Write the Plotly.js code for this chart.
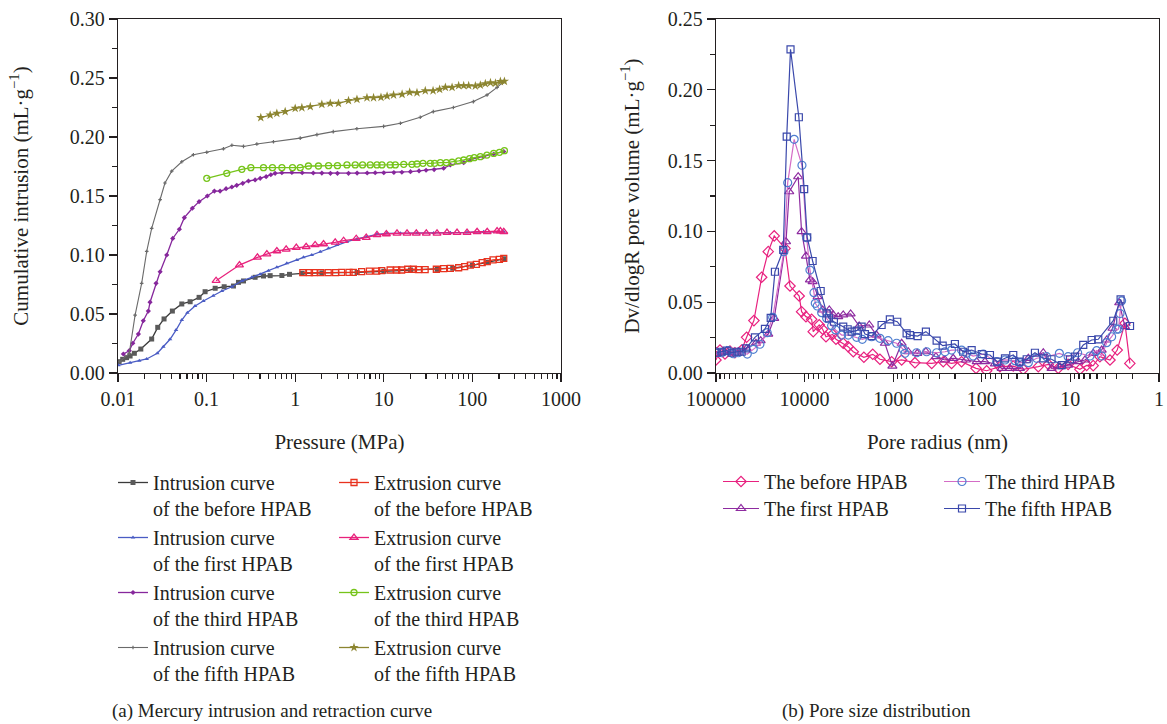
<!DOCTYPE html>
<html>
<head>
<meta charset="utf-8">
<script src="https://cdn.plot.ly/plotly-3.0.1.min.js"></script>
<style>html,body{margin:0;padding:0;background:#fff;}#chart{width:1167px;height:724px;}</style>
</head>
<body>
<div id="chart"></div>
<script>
// ---------- (a) Mercury intrusion / extrusion : pressure (MPa) vs cumulative intrusion (mL/g)
const intrBeforeP = [0.0103, 0.0113, 0.0125, 0.0137, 0.0153, 0.0181, 0.024, 0.0281, 0.0331, 0.0411, 0.0525, 0.0652, 0.0823, 0.0962, 0.125, 0.158, 0.201, 0.229, 0.261, 0.353, 0.439, 0.522, 0.708, 0.863, 1.2, 2, 5, 10, 20, 40, 60, 100, 150, 228];
const intrBeforeV = [0.0096, 0.0116, 0.013, 0.0144, 0.0167, 0.0203, 0.0288, 0.0387, 0.0458, 0.0525, 0.0585, 0.0604, 0.0641, 0.0689, 0.0718, 0.0731, 0.0737, 0.0768, 0.078, 0.0811, 0.0822, 0.0825, 0.0826, 0.0836, 0.0845, 0.0848, 0.0852, 0.0862, 0.0873, 0.0878, 0.0888, 0.0912, 0.0938, 0.0968];
const extrBeforeP = [226, 202, 171, 147, 129, 111, 94.9, 81.8, 70, 56.4, 47.4, 39.2, 29.3, 24.6, 21.6, 18.6, 15.9, 14, 11.8, 9.48, 8.32, 6.88, 5.62, 4.53, 4.05, 3.34, 2.86, 2.36, 1.95, 1.64, 1.45, 1.22];
const extrBeforeV = [0.0972, 0.0963, 0.0958, 0.0943, 0.0935, 0.092, 0.0915, 0.0901, 0.0892, 0.0887, 0.0884, 0.0879, 0.0876, 0.0876, 0.0879, 0.0879, 0.0873, 0.0873, 0.0873, 0.0867, 0.0864, 0.0864, 0.0859, 0.0853, 0.0853, 0.0853, 0.085, 0.085, 0.085, 0.085, 0.085, 0.085];
const intrFirstP = [0.0101, 0.0137, 0.0174, 0.0211, 0.0278, 0.0325, 0.0387, 0.0452, 0.0525, 0.0607, 0.0741, 0.092, 0.119, 0.149, 0.193, 0.25, 0.324, 0.403, 0.499, 0.621, 0.805, 1.045, 1.24, 1.54, 1.92, 2.38, 2.96, 3.84, 4.98, 6.46, 8.38, 10.9, 15.4, 23.7, 36.6, 56.4, 87, 134, 226];
const intrFirstV = [0.0065, 0.0087, 0.0104, 0.0119, 0.0167, 0.0223, 0.0286, 0.0364, 0.0449, 0.0511, 0.0568, 0.061, 0.0655, 0.0695, 0.0731, 0.078, 0.0811, 0.0836, 0.0867, 0.0896, 0.093, 0.0958, 0.098, 0.1, 0.1028, 0.1057, 0.1085, 0.1113, 0.1136, 0.1155, 0.1175, 0.1184, 0.1184, 0.1184, 0.1186, 0.1189, 0.1191, 0.1197, 0.1197];
const extrFirstP = [226, 207, 190, 147, 113, 87, 67.1, 51.7, 39.9, 30.2, 23.3, 18.3, 14.1, 10.7, 8.38, 6.34, 4.89, 3.52, 2.83, 2.09, 1.68, 1.33, 1.03, 0.791, 0.621, 0.479, 0.375, 0.235, 0.128];
const extrFirstV = [0.1197, 0.1203, 0.1203, 0.1197, 0.1197, 0.1189, 0.1189, 0.1189, 0.1184, 0.1184, 0.1184, 0.1184, 0.1184, 0.1178, 0.117, 0.1147, 0.1138, 0.1121, 0.1107, 0.1093, 0.1085, 0.107, 0.1062, 0.1048, 0.1034, 0.1008, 0.098, 0.0915, 0.0782];
const intrThirdP = [0.0115, 0.0134, 0.0147, 0.017, 0.0193, 0.022, 0.023, 0.0269, 0.0299, 0.0355, 0.0415, 0.0493, 0.0561, 0.0691, 0.0823, 0.102, 0.1225, 0.142, 0.166, 0.193, 0.219, 0.256, 0.297, 0.353, 0.403, 0.47, 0.531, 0.594, 0.708, 0.918, 1.2, 1.6, 2, 2.5, 3, 4, 5, 6.5, 8, 10, 13, 16, 20, 25, 30, 37, 47.4, 56.4, 79.8, 96.2, 134, 174, 226];
const intrThirdV = [0.0161, 0.0189, 0.0252, 0.033, 0.0443, 0.0525, 0.06, 0.076, 0.0858, 0.1, 0.114, 0.1218, 0.1316, 0.1396, 0.1452, 0.15, 0.1542, 0.1542, 0.1562, 0.1576, 0.159, 0.1607, 0.1627, 0.1636, 0.165, 0.1664, 0.168, 0.1692, 0.1697, 0.17, 0.1697, 0.1695, 0.1694, 0.1692, 0.1692, 0.1692, 0.1694, 0.1695, 0.1697, 0.1697, 0.1699, 0.1701, 0.1706, 0.1712, 0.1718, 0.1724, 0.1735, 0.1763, 0.1782, 0.1811, 0.1833, 0.1856, 0.1876];
const extrThirdP = [230, 202, 174, 146, 123, 105, 93, 79.8, 70, 59, 50.8, 43.5, 37.5, 33.5, 27.7, 23.7, 20.8, 16.8, 13.5, 11.8, 9.54, 8.37, 7.03, 5.76, 4.76, 3.84, 3.0, 2.38, 1.83, 1.41, 1.14, 0.933, 0.708, 0.554, 0.439, 0.316, 0.25, 0.169, 0.1005];
const extrThirdV = [0.1884, 0.187, 0.1861, 0.1847, 0.1833, 0.1825, 0.1816, 0.1805, 0.1797, 0.1786, 0.1782, 0.1782, 0.1777, 0.1777, 0.1777, 0.1771, 0.1768, 0.1768, 0.1763, 0.1763, 0.1763, 0.1763, 0.1763, 0.1763, 0.1763, 0.1763, 0.1757, 0.1757, 0.1754, 0.1754, 0.174, 0.174, 0.174, 0.174, 0.174, 0.174, 0.1726, 0.1692, 0.165];
const intrFifthP = [0.0105, 0.0134, 0.0156, 0.0185, 0.0211, 0.024, 0.0299, 0.0339, 0.0404, 0.0525, 0.071, 0.1005, 0.155, 0.193, 0.261, 0.369, 0.569, 1.14, 1.76, 2.69, 4.97, 9.95, 15.4, 25.8, 36.2, 61, 102.6, 146.5, 190, 226];
const intrFifthV = [0.0096, 0.0167, 0.049, 0.076, 0.103, 0.1226, 0.147, 0.161, 0.171, 0.179, 0.185, 0.187, 0.19, 0.193, 0.192, 0.194, 0.196, 0.199, 0.202, 0.2045, 0.207, 0.209, 0.2116, 0.2167, 0.2215, 0.225, 0.23, 0.2356, 0.242, 0.247];
const extrFifthP = [230, 207, 182, 160, 140, 123, 108, 90.8, 79.8, 70, 59, 49.6, 42.7, 36, 29.4, 23.7, 19.6, 16.1, 12.9, 10.9, 9.3, 7.67, 6.46, 4.98, 4.0, 3.08, 2.49, 2.0, 1.48, 1.19, 1.0, 0.771, 0.621, 0.522, 0.409];
const extrFifthV = [0.2472, 0.247, 0.2456, 0.246, 0.2452, 0.244, 0.2432, 0.2435, 0.2435, 0.2435, 0.2421, 0.2421, 0.2404, 0.2392, 0.2392, 0.2375, 0.2379, 0.2362, 0.2356, 0.2347, 0.2336, 0.2333, 0.2333, 0.2319, 0.2308, 0.2285, 0.2285, 0.2277, 0.2257, 0.2248, 0.2243, 0.2215, 0.22, 0.2186, 0.2164];

// ---------- (b) Pore size distribution : pore radius (nm) vs Dv/dlogR (mL/g)
const psdBeforeR = [100000, 90100, 79100, 69500, 61100, 51300, 45100, 37300, 30500, 25700, 22000, 16600, 14600, 11500, 10800, 9640, 8320, 7980, 6830, 6250, 5730, 4820, 4420, 3660, 3220, 2820, 2140, 1700, 1410, 1040, 802, 568, 367, 272, 219, 169, 116, 88, 62.3, 44.1, 34, 23, 17.7, 13.7, 10.6, 7.8, 6.55, 5.52, 4.64, 3.57, 2.96, 2.42, 2.13];
const psdBeforeV = [0.0092, 0.0162, 0.0134, 0.0155, 0.0143, 0.0162, 0.0252, 0.037, 0.0676, 0.0857, 0.0968, 0.088, 0.0614, 0.0544, 0.0433, 0.0398, 0.0379, 0.0292, 0.034, 0.0309, 0.0256, 0.0273, 0.0238, 0.021, 0.0186, 0.015, 0.0111, 0.0132, 0.0097, 0.008, 0.0092, 0.0073, 0.0068, 0.008, 0.0068, 0.008, 0.0033, 0.0016, 0.0045, 0.0049, 0.0026, 0.0045, 0.0061, 0.0033, 0.0061, 0.0026, 0.0054, 0.0052, 0.0115, 0.0092, 0.0162, 0.0351, 0.0068];
const psdFirstR = [98200, 86200, 75700, 66500, 56000, 45100, 35400, 31300, 25700, 22000, 16200, 14900, 11800, 10800, 9640, 8690, 8110, 7110, 6250, 5260, 4740, 4170, 3660, 3020, 2420, 1860, 1540, 1240, 1020, 802, 676, 535, 427, 329, 260, 210, 151, 114, 92, 71, 59.6, 48.1, 37.1, 29.8, 20.2, 16.3, 13.1, 10.6, 8.15, 6.84, 5.52, 4.43, 3.89, 3.34, 2.81, 2.42];
const psdFirstV = [0.015, 0.0143, 0.0158, 0.0143, 0.015, 0.0174, 0.021, 0.0228, 0.0275, 0.0386, 0.0927, 0.128, 0.1386, 0.0998, 0.0826, 0.0657, 0.0645, 0.0539, 0.0445, 0.0445, 0.041, 0.0398, 0.041, 0.0417, 0.0332, 0.0339, 0.0268, 0.021, 0.0049, 0.021, 0.015, 0.0139, 0.015, 0.0115, 0.0092, 0.0104, 0.0092, 0.008, 0.008, 0.0064, 0.0033, 0.0033, 0.0033, 0.0104, 0.0143, 0.0033, 0.0045, 0.0056, 0.008, 0.0092, 0.0139, 0.0162, 0.0233, 0.0316, 0.0496, 0.0327];
const psdThirdR = [98200, 86200, 72600, 63800, 56000, 44300, 37900, 31900, 26400, 22900, 17100, 15500, 13100, 10700, 9460, 8690, 7830, 7570, 7190, 6410, 5630, 4950, 4460, 3810, 3210, 2580, 2230, 1750, 1410, 1140, 914, 769, 736, 543, 419, 323, 260, 219, 169, 148, 125, 96.2, 67.9, 54.7, 42.2, 37.1, 29.8, 24, 18.5, 13.3, 10.6, 8.28, 6.01, 5.05, 4.43, 3.89, 3.42, 3.0, 2.86, 2.75, 2.64];
const psdThirdV = [0.0143, 0.0143, 0.0158, 0.0136, 0.0143, 0.0134, 0.0167, 0.0203, 0.0285, 0.0393, 0.0857, 0.1344, 0.165, 0.1467, 0.0955, 0.0727, 0.0567, 0.0492, 0.0473, 0.0426, 0.0386, 0.0334, 0.0304, 0.0268, 0.0268, 0.0252, 0.0238, 0.0256, 0.0245, 0.0228, 0.021, 0.0167, 0.0139, 0.0143, 0.015, 0.0143, 0.015, 0.0162, 0.0162, 0.0139, 0.012, 0.0134, 0.008, 0.0092, 0.0087, 0.0073, 0.0073, 0.0104, 0.0115, 0.0139, 0.0115, 0.0143, 0.012, 0.0158, 0.012, 0.0214, 0.0256, 0.0309, 0.031, 0.042, 0.051];
const psdFifthR = [98200, 86200, 75700, 66500, 58400, 51300, 45800, 36300, 28000, 24100, 21600, 17400, 15900, 14400, 11600, 10100, 9330, 8110, 6580, 5630, 5310, 4660, 3660, 3260, 2940, 2580, 2270, 2080, 1750, 1350, 1090, 899, 705, 646, 529, 427, 323, 276, 201, 162, 130, 100, 80.8, 66.8, 54.7, 44.1, 37.7, 31.1, 25.1, 20.2, 16.3, 12.5, 10.1, 8.88, 7.15, 5.75, 4.84, 3.28, 2.71, 2.12];
const psdFifthV = [0.0143, 0.015, 0.0158, 0.0143, 0.015, 0.015, 0.0174, 0.0252, 0.0311, 0.039, 0.0715, 0.0869, 0.1669, 0.2286, 0.1806, 0.1299, 0.0958, 0.0791, 0.0579, 0.0421, 0.0386, 0.0362, 0.0327, 0.0309, 0.0292, 0.0299, 0.0327, 0.0275, 0.0261, 0.0339, 0.0379, 0.0362, 0.028, 0.0268, 0.0261, 0.0292, 0.0228, 0.0193, 0.0205, 0.015, 0.0162, 0.0134, 0.0127, 0.008, 0.0104, 0.0127, 0.008, 0.0097, 0.0143, 0.0104, 0.0097, 0.0056, 0.0097, 0.0115, 0.0198, 0.0233, 0.0238, 0.0369, 0.052, 0.0332];

// ---------- tick labels
const pressureTickVals = [0.01, 0.1, 1, 10, 100, 1000];
const pressureTickText = ['0.01', '0.1', '1', '10', '100', '1000'];
const radiusTickVals = [100000, 10000, 1000, 100, 10, 1];
const radiusTickText = ['100000', '10000', '1000', '100', '10', '1'];

const FONT = 'Liberation Serif, Times New Roman, serif';
const INK = '#231f20';

function ln(x, y, name, color, lw, marker, legend, xa, ya) {
  return {x: x, y: y, name: name, type: 'scatter', mode: 'lines+markers',
    line: {color: color, width: lw}, marker: marker, legend: legend,
    xaxis: xa, yaxis: ya, hoverinfo: 'x+y+name'};
}

const traces = [
  ln(intrBeforeP, intrBeforeV, 'Intrusion curve<br>of the before HPAB', '#3a3a3a', 1.3,
     {symbol: 'square', size: 5, color: '#5a5a5a'}, 'legend', 'x', 'y'),
  ln(intrFirstP, intrFirstV, 'Intrusion curve<br>of the first HPAB', '#4a5cc4', 1.3,
     {symbol: 'triangle-up', size: 4, color: '#4a5cc4'}, 'legend', 'x', 'y'),
  ln(intrThirdP, intrThirdV, 'Intrusion curve<br>of the third HPAB', '#86279c', 1.3,
     {symbol: 'diamond', size: 4, color: '#86279c'}, 'legend', 'x', 'y'),
  ln(intrFifthP, intrFifthV, 'Intrusion curve<br>of the fifth HPAB', '#6a6a6a', 1.1,
     {symbol: 'cross', size: 3, color: '#6a6a6a'}, 'legend', 'x', 'y'),
  ln(extrBeforeP, extrBeforeV, 'Extrusion curve<br>of the before HPAB', '#e8321e', 1.3,
     {symbol: 'square-open', size: 6, color: '#e8321e', line: {width: 1.3}}, 'legend2', 'x', 'y'),
  ln(extrFirstP, extrFirstV, 'Extrusion curve<br>of the first HPAB', '#e8227c', 1.3,
     {symbol: 'triangle-up-open', size: 7, color: '#e8227c', line: {width: 1.3}}, 'legend2', 'x', 'y'),
  ln(extrThirdP, extrThirdV, 'Extrusion curve<br>of the third HPAB', '#76c41a', 1.3,
     {symbol: 'circle-open', size: 6, color: '#76c41a', line: {width: 1.3}}, 'legend2', 'x', 'y'),
  ln(extrFifthP, extrFifthV, 'Extrusion curve<br>of the fifth HPAB', '#8c8530', 1.3,
     {symbol: 'star', size: 7, color: '#8c8530'}, 'legend2', 'x', 'y'),
  ln(psdBeforeR, psdBeforeV, 'The before HPAB', '#e8217f', 1.2,
     {symbol: 'diamond-open', size: 8, color: '#e8217f', line: {width: 1.2}}, 'legend3', 'x2', 'y2'),
  ln(psdFirstR, psdFirstV, 'The first HPAB', '#8e2ba0', 1.2,
     {symbol: 'triangle-up-open', size: 8, color: '#8e2ba0', line: {width: 1.2}}, 'legend5', 'x2', 'y2'),
  ln(psdThirdR, psdThirdV, 'The third HPAB', '#d46cc6', 1.2,
     {symbol: 'circle-open', size: 8, color: '#4f7fd0', line: {width: 1.2}}, 'legend4', 'x2', 'y2'),
  ln(psdFifthR, psdFifthV, 'The fifth HPAB', '#3a48ab', 1.2,
     {symbol: 'square-open', size: 7, color: '#3a48ab', line: {width: 1.2}}, 'legend6', 'x2', 'y2')
];

const axisCommon = {
  showline: true, linecolor: INK, linewidth: 1.2, mirror: true,
  ticks: 'outside', ticklen: 8, tickwidth: 1.2, tickcolor: INK,
  showgrid: false, zeroline: false,
  tickfont: {family: FONT, size: 20, color: INK}
};

function legendBox(x, y, iw) {
  return {x: x, y: y, xref: 'paper', yref: 'paper', xanchor: 'left', yanchor: 'top',
    orientation: 'v', valign: 'top', bgcolor: 'rgba(0,0,0,0)', borderwidth: 0,
    font: {family: FONT, size: 20, color: INK}, tracegroupgap: 0, itemwidth: iw || 30};
}

const layout = {
  width: 1167, height: 724,
  margin: {l: 0, r: 0, t: 0, b: 0},
  paper_bgcolor: '#ffffff', plot_bgcolor: '#ffffff',
  font: {family: FONT, size: 20, color: INK},
  showlegend: true,
  xaxis: Object.assign({}, axisCommon, {
    domain: [0.1011, 0.4807], anchor: 'y', type: 'log', range: [-2, 3],
    tickmode: 'array', tickvals: pressureTickVals, ticktext: pressureTickText,
    minor: {ticks: 'outside', ticklen: 5, tickwidth: 1.2, tickcolor: INK, dtick: 'D1', showgrid: false},
    title: {text: 'Pressure (MPa)', font: {family: FONT, size: 21, color: INK}, standoff: 25}
  }),
  yaxis: Object.assign({}, axisCommon, {
    domain: [0.4848, 0.9738], anchor: 'x', range: [0, 0.3], dtick: 0.05, tickformat: '.2f',
    minor: {ticks: 'outside', ticklen: 5, tickwidth: 1.2, tickcolor: INK, dtick: 0.025, showgrid: false},
    title: {text: 'Cumulative intrusion (mL·g<sup>−1</sup>)', font: {family: FONT, size: 21, color: INK}, standoff: 35}
  }),
  xaxis2: Object.assign({}, axisCommon, {
    domain: [0.6135, 0.9931], anchor: 'y2', type: 'log', range: [5, 0],
    tickmode: 'array', tickvals: radiusTickVals, ticktext: radiusTickText,
    minor: {ticks: 'outside', ticklen: 5, tickwidth: 1.2, tickcolor: INK, dtick: 'D1', showgrid: false},
    title: {text: 'Pore radius (nm)', font: {family: FONT, size: 21, color: INK}, standoff: 25}
  }),
  yaxis2: Object.assign({}, axisCommon, {
    domain: [0.4848, 0.9738], anchor: 'x2', range: [0, 0.25], dtick: 0.05, tickformat: '.2f',
    minor: {ticks: 'outside', ticklen: 5, tickwidth: 1.2, tickcolor: INK, dtick: 0.025, showgrid: false},
    title: {text: 'Dv/dlogR pore volume (mL·g<sup>−1</sup>)', font: {family: FONT, size: 21, color: INK}, standoff: 22}
  }),
  legend: legendBox(113 / 1167, 1 - 463 / 724),
  legend2: legendBox(334 / 1167, 1 - 463 / 724),
  legend3: legendBox(718 / 1167, 1 - 462 / 724, 36),
  legend5: legendBox(718 / 1167, 1 - 489 / 724, 36),
  legend4: legendBox(939 / 1167, 1 - 462 / 724, 36),
  legend6: legendBox(939 / 1167, 1 - 489 / 724, 36),
  annotations: [
    {text: '(a) Mercury intrusion and retraction curve', xref: 'paper', yref: 'paper',
     x: 110 / 1167, y: 1 - 711 / 724, xanchor: 'left', yanchor: 'middle', showarrow: false,
     font: {family: FONT, size: 19, color: INK}},
    {text: '(b) Pore size distribution', xref: 'paper', yref: 'paper',
     x: 780 / 1167, y: 1 - 711 / 724, xanchor: 'left', yanchor: 'middle', showarrow: false,
     font: {family: FONT, size: 19, color: INK}}
  ]
};

Plotly.newPlot('chart', traces, layout, {displayModeBar: false, staticPlot: true});
</script>
</body>
</html>
